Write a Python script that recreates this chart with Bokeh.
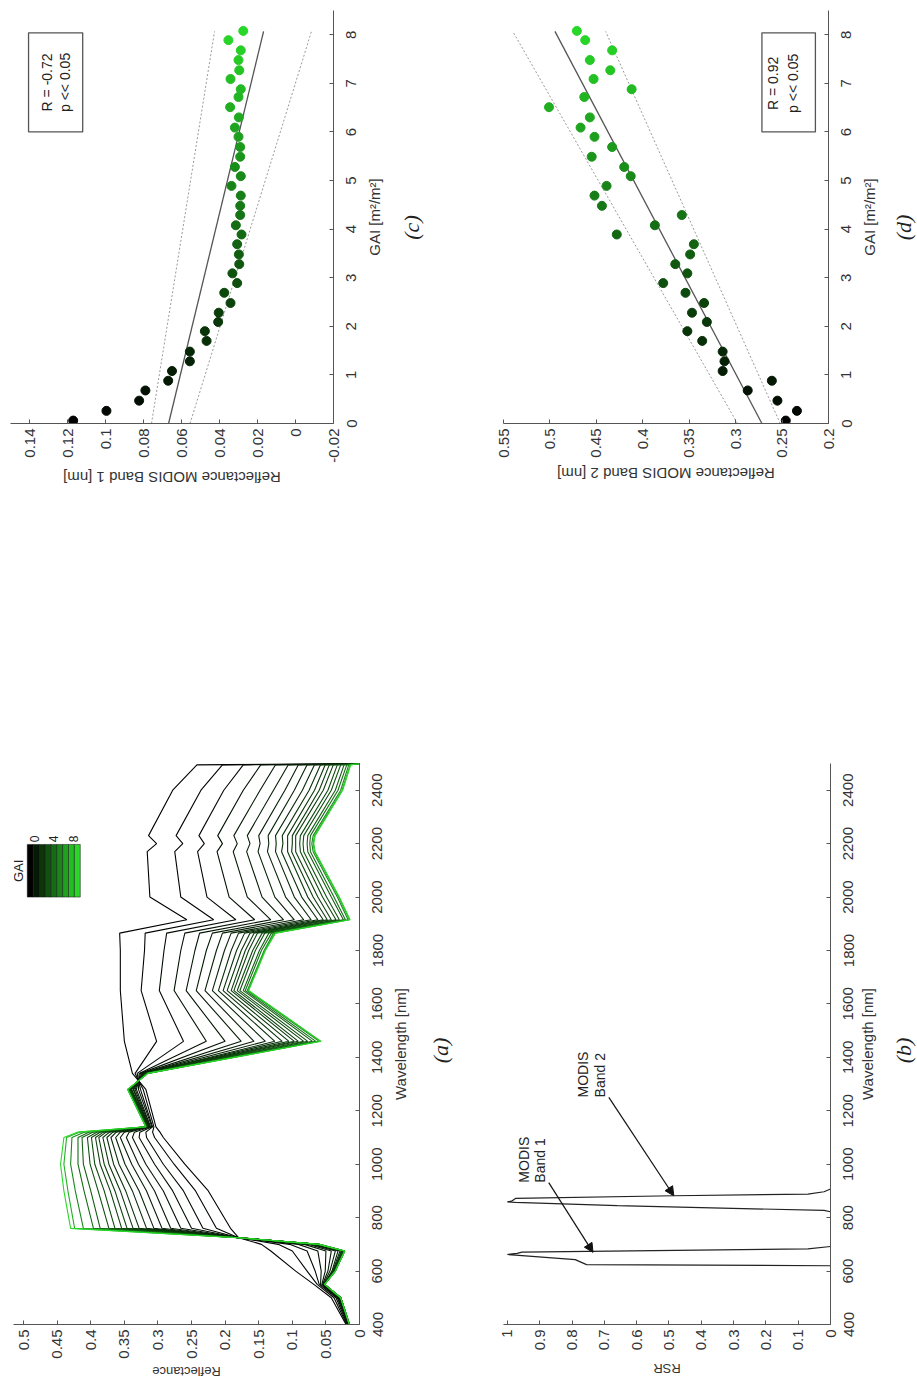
import math
from bokeh.plotting import figure
from bokeh.layouts import column, row
from bokeh.models import (Range1d, FixedTicker, CustomJSTickFormatter, LinearAxis,
                          CustomLabelingPolicy, BoxAnnotation, Label, Arrow, NormalHead,
                          ColumnDataSource)
from bokeh.transform import linear_cmap
from bokeh.embed import file_html
from bokeh.resources import INLINE

FONT = "Liberation Sans"

# ---------------- panel (a): canopy reflectance spectra per GAI ----------------
spectra_wavelength = [400, 500, 550, 600, 675, 700, 725, 760, 900, 1000, 1100, 1120, 1140,
                      1280, 1340, 1460, 1650, 1800, 1865, 1915, 2000, 2170, 2200, 2230,
                      2400, 2495, 2500]
spectra_gai = [0, 0.2, 0.4, 0.6, 0.8, 1.0, 1.2, 1.4, 1.6, 1.8, 2.0, 2.2, 2.4, 2.7, 3.0, 3.5,
               4.0, 5.0, 6.5, 8.0]
spectra_reflectance = [
    [0.020, 0.042, 0.068, 0.095, 0.132, 0.146, 0.180, 0.192, 0.225, 0.260, 0.292, 0.297, 0.303, 0.318, 0.338, 0.350, 0.356, 0.356, 0.357, 0.257, 0.312, 0.316, 0.302, 0.314, 0.278, 0.242, 0],
    [0.019, 0.038, 0.063, 0.078, 0.100, 0.121, 0.180, 0.213, 0.244, 0.276, 0.305, 0.308, 0.306, 0.322, 0.334, 0.302, 0.325, 0.320, 0.319, 0.217, 0.266, 0.275, 0.263, 0.273, 0.236, 0.204, 0],
    [0.018, 0.035, 0.060, 0.066, 0.078, 0.104, 0.180, 0.233, 0.262, 0.292, 0.317, 0.318, 0.308, 0.326, 0.331, 0.262, 0.298, 0.291, 0.287, 0.184, 0.227, 0.241, 0.231, 0.239, 0.202, 0.173, 0],
    [0.017, 0.033, 0.058, 0.057, 0.062, 0.091, 0.180, 0.250, 0.278, 0.305, 0.328, 0.327, 0.309, 0.329, 0.328, 0.228, 0.276, 0.266, 0.260, 0.156, 0.194, 0.212, 0.204, 0.211, 0.173, 0.147, 0],
    [0.016, 0.032, 0.056, 0.051, 0.050, 0.082, 0.180, 0.266, 0.292, 0.318, 0.338, 0.335, 0.311, 0.332, 0.326, 0.200, 0.258, 0.245, 0.238, 0.132, 0.167, 0.188, 0.182, 0.187, 0.148, 0.125, 0],
    [0.016, 0.031, 0.055, 0.047, 0.042, 0.076, 0.180, 0.281, 0.305, 0.329, 0.347, 0.343, 0.312, 0.334, 0.324, 0.176, 0.243, 0.228, 0.219, 0.113, 0.145, 0.168, 0.163, 0.167, 0.128, 0.106, 0],
    [0.016, 0.030, 0.054, 0.044, 0.036, 0.071, 0.180, 0.294, 0.317, 0.339, 0.356, 0.350, 0.313, 0.336, 0.323, 0.157, 0.230, 0.213, 0.204, 0.097, 0.126, 0.151, 0.148, 0.150, 0.111, 0.091, 0],
    [0.015, 0.029, 0.053, 0.041, 0.032, 0.068, 0.180, 0.306, 0.328, 0.349, 0.363, 0.356, 0.314, 0.337, 0.322, 0.140, 0.219, 0.201, 0.191, 0.083, 0.110, 0.137, 0.135, 0.136, 0.097, 0.078, 0],
    [0.015, 0.029, 0.053, 0.040, 0.029, 0.066, 0.180, 0.317, 0.338, 0.358, 0.370, 0.362, 0.314, 0.339, 0.320, 0.126, 0.210, 0.191, 0.180, 0.072, 0.097, 0.125, 0.124, 0.125, 0.085, 0.067, 0],
    [0.015, 0.029, 0.053, 0.039, 0.027, 0.064, 0.180, 0.328, 0.348, 0.366, 0.376, 0.367, 0.315, 0.340, 0.320, 0.115, 0.203, 0.183, 0.171, 0.062, 0.086, 0.116, 0.114, 0.115, 0.075, 0.058, 0],
    [0.015, 0.028, 0.052, 0.038, 0.026, 0.063, 0.180, 0.337, 0.356, 0.373, 0.382, 0.372, 0.316, 0.341, 0.319, 0.105, 0.197, 0.176, 0.163, 0.054, 0.077, 0.107, 0.107, 0.107, 0.067, 0.051, 0],
    [0.015, 0.028, 0.052, 0.037, 0.025, 0.062, 0.180, 0.346, 0.364, 0.380, 0.388, 0.377, 0.316, 0.341, 0.318, 0.097, 0.191, 0.170, 0.157, 0.048, 0.069, 0.101, 0.100, 0.100, 0.060, 0.045, 0],
    [0.015, 0.028, 0.052, 0.037, 0.024, 0.062, 0.180, 0.354, 0.371, 0.386, 0.393, 0.381, 0.316, 0.342, 0.318, 0.091, 0.187, 0.165, 0.152, 0.042, 0.062, 0.095, 0.095, 0.095, 0.054, 0.039, 0],
    [0.015, 0.028, 0.052, 0.037, 0.023, 0.061, 0.180, 0.364, 0.380, 0.394, 0.399, 0.386, 0.317, 0.343, 0.317, 0.083, 0.182, 0.159, 0.145, 0.035, 0.055, 0.088, 0.089, 0.088, 0.047, 0.033, 0],
    [0.015, 0.028, 0.052, 0.036, 0.023, 0.061, 0.180, 0.373, 0.389, 0.401, 0.405, 0.391, 0.317, 0.343, 0.317, 0.077, 0.178, 0.155, 0.141, 0.030, 0.049, 0.083, 0.084, 0.083, 0.042, 0.028, 0],
    [0.015, 0.028, 0.052, 0.036, 0.022, 0.060, 0.180, 0.386, 0.400, 0.411, 0.413, 0.397, 0.317, 0.344, 0.316, 0.070, 0.173, 0.149, 0.135, 0.024, 0.042, 0.077, 0.078, 0.077, 0.036, 0.023, 0],
    [0.015, 0.028, 0.052, 0.036, 0.022, 0.060, 0.180, 0.396, 0.410, 0.419, 0.419, 0.403, 0.318, 0.344, 0.316, 0.065, 0.170, 0.146, 0.131, 0.021, 0.038, 0.073, 0.074, 0.073, 0.032, 0.019, 0],
    [0.015, 0.028, 0.052, 0.036, 0.022, 0.060, 0.180, 0.411, 0.423, 0.430, 0.428, 0.410, 0.318, 0.345, 0.315, 0.060, 0.167, 0.142, 0.128, 0.017, 0.033, 0.069, 0.071, 0.069, 0.028, 0.016, 0],
    [0.015, 0.028, 0.052, 0.036, 0.022, 0.060, 0.180, 0.424, 0.434, 0.440, 0.436, 0.417, 0.318, 0.345, 0.315, 0.058, 0.166, 0.141, 0.126, 0.015, 0.031, 0.067, 0.069, 0.067, 0.026, 0.014, 0],
    [0.015, 0.028, 0.052, 0.036, 0.022, 0.060, 0.180, 0.430, 0.440, 0.445, 0.440, 0.420, 0.318, 0.345, 0.315, 0.057, 0.165, 0.140, 0.125, 0.014, 0.030, 0.066, 0.068, 0.066, 0.025, 0.013, 0],
]
legend_gai_ticks = [0, 4, 8]

# ---------------- panel (b): MODIS relative spectral response ----------------
band1_wavelength = [620, 624, 643, 660, 662, 666, 671, 683, 692]
band1_rsr = [0.0, 0.755, 0.79, 0.975, 1.0, 0.97, 0.955, 0.07, 0.0]
band2_wavelength = [822, 827, 845, 857, 859, 863, 872, 882, 888, 897, 907]
band2_rsr = [0.0, 0.02, 0.66, 0.975, 1.0, 0.985, 0.975, 0.485, 0.07, 0.02, 0.0]

# ---------------- panels (c), (d): MODIS reflectance vs GAI ----------------
point_gai = [0.06, 0.26, 0.47, 0.68, 0.88, 1.08, 1.28, 1.48, 1.70, 1.90, 2.09, 2.28, 2.48, 2.69,
             2.89, 3.09, 3.28, 3.48, 3.69, 3.89, 4.08, 4.29, 4.48, 4.69, 4.89, 5.09, 5.28, 5.49,
             5.69, 5.90, 6.09, 6.30, 6.51, 6.72, 6.88, 7.09, 7.27, 7.48, 7.68, 7.89, 8.08]
band1_reflectance = [0.117, 0.0995, 0.0823, 0.079, 0.067, 0.065, 0.0556, 0.0556, 0.0468, 0.0477,
                     0.0407, 0.0404, 0.0342, 0.0375, 0.0307, 0.0332, 0.0296, 0.0298, 0.0307, 0.0284,
                     0.0314, 0.0291, 0.0291, 0.0288, 0.0337, 0.0288, 0.0319, 0.0291, 0.0291, 0.0300,
                     0.0319, 0.0298, 0.0344, 0.0300, 0.0288, 0.0342, 0.0296, 0.0300, 0.0288, 0.0353, 0.0275]
band2_reflectance = [0.246, 0.234, 0.255, 0.287, 0.261, 0.314, 0.312, 0.314, 0.336, 0.352,
                     0.331, 0.347, 0.334, 0.354, 0.378, 0.352, 0.365, 0.349, 0.345, 0.428,
                     0.387, 0.358, 0.444, 0.452, 0.439, 0.413, 0.420, 0.455, 0.433, 0.452,
                     0.467, 0.457, 0.501, 0.463, 0.412, 0.453, 0.435, 0.457, 0.433, 0.462, 0.471]
fit_gai = [0.0, 8.07]
fit_band1 = [0.0668, 0.0168]
upper_band1 = [0.0758, 0.0426]
lower_band1 = [0.0555, -0.0084]
fit_band2 = [0.2717, 0.4946]
upper_band2 = [0.298, 0.540]
lower_band2 = [0.252, 0.440]
stats_band1 = ["R = -0.72", "p << 0.05"]
stats_band2 = ["R = 0.92", "p << 0.05"]
panel_tags = ["(a)", "(b)", "(c)", "(d)"]

# tick values
wl_ticks = [400, 600, 800, 1000, 1200, 1400, 1600, 1800, 2000, 2200, 2400]
gai_ticks = [0, 1, 2, 3, 4, 5, 6, 7, 8]

# ---------------- styling helpers ----------------
palette = ["#%02x%02x%02x" % (round(40 * i / 255), round(215 * i / 255), round(40 * i / 255))
           for i in range(256)]

# Arial / Liberation Sans advance widths (em) used to centre rotated labels
CHAR_W = {' ': .278, '[': .278, ']': .278, '1': .556, '2': .556, 'B': .667, 'D': .722,
          'I': .278, 'M': .833, 'O': .778, 'R': .722, 'S': .667, 'a': .556, 'c': .5,
          'd': .556, 'e': .556, 'f': .278, 'l': .222, 'm': .833, 'n': .556, 't': .278}


def text_px(s, size):
    return sum(CHAR_W.get(ch, 0.556) for ch in s) * size


def gai_color(g):
    return palette[min(255, int(round(g / 8 * 255)))]


def fmt():
    return CustomJSTickFormatter(code=r"return tick.toFixed(2).replace(/\.?0+$/, '');")


def make_fig(xr, yr, fw, fh, left, right, top, bottom, xloc="below", yloc="right"):
    p = figure(x_range=xr, y_range=yr, frame_width=fw, frame_height=fh,
               min_border_left=left, min_border_right=right,
               min_border_top=top, min_border_bottom=bottom,
               x_axis_location=xloc, y_axis_location=yloc,
               output_backend="svg", toolbar_location=None, tools="", title=None)
    p.grid.visible = False
    p.outline_line_color = None
    p.background_fill_color = "white"
    p.border_fill_color = "white"
    return p


def style_bottom(ax, ticks):
    ax.ticker = FixedTicker(ticks=ticks)
    ax.formatter = fmt()
    ax.major_label_orientation = math.pi / 2
    ax.major_label_text_font = FONT
    ax.major_label_text_font_size = "15px"
    ax.major_label_text_color = "#333333"
    ax.major_label_standoff = 5
    ax.major_tick_in = 4
    ax.major_tick_out = 0
    ax.minor_tick_line_color = None
    ax.axis_line_color = "#555555"
    ax.major_tick_line_color = "#555555"


def style_right_marks(ax, ticks):
    # axis line and inward tick marks only; the numbers sit in the strip to the right
    ax.ticker = FixedTicker(ticks=ticks)
    ax.major_label_policy = CustomLabelingPolicy(code="for (const i of indices) indices.unset(i)")
    ax.major_label_text_font_size = "1px"
    ax.major_label_standoff = 0
    ax.major_tick_in = 4
    ax.major_tick_out = 0
    ax.minor_tick_line_color = None
    ax.axis_line_color = "#555555"
    ax.major_tick_line_color = "#555555"


def below_label(p, text, size, center, px_per_unit, standoff):
    # upside-down axis title, drawn as a single tick label so that it can be centred
    anchor = center + text_px(text, size) / 2 / px_per_unit
    ax = LinearAxis(ticker=FixedTicker(ticks=[anchor]),
                    formatter=CustomJSTickFormatter(args=dict(t=text), code="return t;"),
                    axis_line_color=None, major_tick_line_color=None, minor_tick_line_color=None,
                    major_tick_in=0, major_tick_out=0, minor_tick_in=0, minor_tick_out=0,
                    major_label_orientation=math.pi, major_label_text_font=FONT,
                    major_label_text_font_size="%dpx" % size, major_label_text_color="#333333",
                    major_label_standoff=standoff)
    p.add_layout(ax, "below")


def make_strip(yr, w, fh, left, top, bottom, ticks, label, s_label, s_ticks,
               tag_text, tag_x, tag_y):
    p = make_fig(Range1d(0, w), yr, w, fh, left, 0, top, bottom, xloc=None, yloc="left")
    lab = p.yaxis[0]
    lab.ticker = FixedTicker(ticks=[])
    lab.axis_line_color = None
    lab.major_tick_line_color = None
    lab.minor_tick_line_color = None
    lab.major_tick_in = 0
    lab.major_tick_out = 0
    lab.major_label_standoff = 0
    lab.axis_label = label
    lab.axis_label_text_font = FONT
    lab.axis_label_text_font_size = "15px"
    lab.axis_label_text_font_style = "normal"
    lab.axis_label_text_color = "#333333"
    lab.axis_label_standoff = s_label
    tk = LinearAxis(ticker=FixedTicker(ticks=ticks), formatter=fmt(), axis_line_color=None,
                    major_tick_line_color=None, minor_tick_line_color=None,
                    major_tick_in=0, major_tick_out=0, minor_tick_in=0, minor_tick_out=0,
                    major_label_orientation="vertical", major_label_text_font=FONT,
                    major_label_text_font_size="15px", major_label_text_color="#333333",
                    major_label_standoff=s_ticks)
    p.add_layout(tk, "left")
    p.add_layout(Label(x=tag_x, y=tag_y, text=tag_text, angle=math.pi / 2,
                       text_align="center", text_baseline="middle",
                       text_font="Liberation Serif", text_font_style="italic",
                       text_font_size="22px", text_color="#222222"))
    return p


def vtext(p, x, y, text, size="14px", align="center"):
    p.add_layout(Label(x=x, y=y, text=text, angle=math.pi / 2, text_align=align,
                       text_baseline="middle", text_font=FONT, text_font_size=size,
                       text_color="#222222"))


cmap = linear_cmap("gai", palette, 0, 8)
pts = ColumnDataSource(dict(gai=point_gai, b1=band1_reflectance, b2=band2_reflectance))

# ---------------- panel (c) ----------------
yr_c = Range1d(0, 8.5)
pc = make_fig(Range1d(0.15, -0.02), yr_c, 323, 413, 10, 8, 10, 277)
style_bottom(pc.xaxis[0], [-0.02, 0, 0.02, 0.04, 0.06, 0.08, 0.1, 0.12, 0.14])
style_right_marks(pc.yaxis[0], gai_ticks)
below_label(pc, "Reflectance MODIS Band 1 [nm]", 15, 0.065, 323 / 0.17, 12)
pc.line(x=upper_band1, y=fit_gai, line_color="#999999", line_dash="2 2", line_width=1)
pc.line(x=lower_band1, y=fit_gai, line_color="#999999", line_dash="2 2", line_width=1)
pc.line(x=fit_band1, y=fit_gai, line_color="#555555", line_width=1.3)
pc.scatter(x="b1", y="gai", source=pts, size=9, fill_color=cmap, line_color=cmap)
pc.add_layout(BoxAnnotation(left=0.1405, right=0.112, bottom=6.0, top=8.04, fill_color="white",
                            fill_alpha=1, line_color="#555555", line_width=1.3, line_alpha=1))
vtext(pc, 0.131, 7.02, stats_band1[0])
vtext(pc, 0.1215, 7.02, stats_band1[1])
sc = make_strip(yr_c, 43, 413, 49, 10, 277, gai_ticks, "GAI [m²/m²]", 8, 6,
                panel_tags[2], 21, 4.034)

# ---------------- panel (d) ----------------
yr_d = Range1d(0, 8.5)
pd = make_fig(Range1d(0.55, 0.2), yr_d, 325, 413, 70, 8, 10, 277)
style_bottom(pd.xaxis[0], [0.2, 0.25, 0.3, 0.35, 0.4, 0.45, 0.5, 0.55])
style_right_marks(pd.yaxis[0], gai_ticks)
below_label(pd, "Reflectance MODIS Band 2 [nm]", 15, 0.375, 325 / 0.35, 13)
pd.line(x=upper_band2, y=fit_gai, line_color="#999999", line_dash="2 2", line_width=1)
pd.line(x=lower_band2, y=fit_gai, line_color="#999999", line_dash="2 2", line_width=1)
pd.line(x=fit_band2, y=fit_gai, line_color="#555555", line_width=1.3)
pd.scatter(x="b2", y="gai", source=pts, size=9, fill_color=cmap, line_color=cmap)
pd.add_layout(BoxAnnotation(left=0.2717, right=0.2141, bottom=6.0, top=8.04, fill_color="white",
                            fill_alpha=1, line_color="#555555", line_width=1.3, line_alpha=1))
vtext(pd, 0.2598, 7.0, stats_band2[0])
vtext(pd, 0.238, 7.0, stats_band2[1])
sd = make_strip(yr_d, 28, 413, 52, 10, 277, gai_ticks, "GAI [m²/m²]", 11, 6,
                panel_tags[3], 15, 4.034)

# ---------------- panel (a) ----------------
yr_a = Range1d(400, 2500)
pa = make_fig(Range1d(0.515, 0), yr_a, 346, 561, 13, 8, 63, 64)
style_bottom(pa.xaxis[0], [0, 0.05, 0.1, 0.15, 0.2, 0.25, 0.3, 0.35, 0.4, 0.45, 0.5])
style_right_marks(pa.yaxis[0], wl_ticks)
below_label(pa, "Reflectance", 13, 0.2575, 346 / 0.515, 10)
spec_src = ColumnDataSource(dict(xs=spectra_reflectance,
                                 ys=[spectra_wavelength] * len(spectra_gai),
                                 gai=spectra_gai))
pa.multi_line(xs="xs", ys="ys", source=spec_src, line_color=cmap, line_width=1.1)
# colour legend (GAI 0 .. 8)
bar_left, bar_right = 0.4945, 0.4156
nseg = 9
step = (bar_left - bar_right) / nseg
pa.quad(left=[bar_left - i * step for i in range(nseg)],
        right=[bar_left - (i + 1) * step for i in range(nseg)],
        bottom=2000, top=2197,
        fill_color=[gai_color(i) for i in range(nseg)], line_color="#111111", line_width=0.5)
for g in legend_gai_ticks:
    vtext(pa, 0.4841 - g * (0.4841 - 0.4260) / 8, 2205, str(g), size="12px", align="left")
vtext(pa, 0.508, 2098, "GAI", size="13px")
sa = make_strip(yr_a, 40, 561, 53, 63, 64, wl_ticks, "Wavelength [nm]", 12, 6,
                panel_tags[0], 20, 1426)

# ---------------- panel (b) ----------------
yr_b = Range1d(400, 2500)
pb = make_fig(Range1d(1.012, 0), yr_b, 327, 561, 43, 8, 63, 64)
style_bottom(pb.xaxis[0], [0, 0.1, 0.2, 0.3, 0.4, 0.5, 0.6, 0.7, 0.8, 0.9, 1])
style_right_marks(pb.yaxis[0], wl_ticks)
below_label(pb, "RSR", 13, 0.506, 327 / 1.012, 15)
pb.line(x=band1_rsr, y=band1_wavelength, line_color="#222222", line_width=1.2)
pb.line(x=band2_rsr, y=band2_wavelength, line_color="#222222", line_width=1.2)
vtext(pb, 0.95, 931, "MODIS", align="left")
vtext(pb, 0.898, 931, "Band 1", align="left")
vtext(pb, 0.765, 1250, "MODIS", align="left")
vtext(pb, 0.712, 1250, "Band 2", align="left")
pb.add_layout(Arrow(end=NormalHead(size=9, fill_color="#111111", line_color="#111111"),
                    x_start=0.872, y_start=931, x_end=0.735, y_end=670,
                    line_color="#111111", line_width=1.2))
pb.add_layout(Arrow(end=NormalHead(size=9, fill_color="#111111", line_color="#111111"),
                    x_start=0.686, y_start=1250, x_end=0.485, y_end=882,
                    line_color="#111111", line_width=1.2))
sb = make_strip(yr_b, 27, 561, 51, 63, 64, wl_ticks, "Wavelength [nm]", 14, 2,
                panel_tags[1], 14, 1426)

layout = column(row(pc, sc, pd, sd), row(pa, sa, pb, sb))
open("out.html", "w").write(file_html(layout, INLINE))
